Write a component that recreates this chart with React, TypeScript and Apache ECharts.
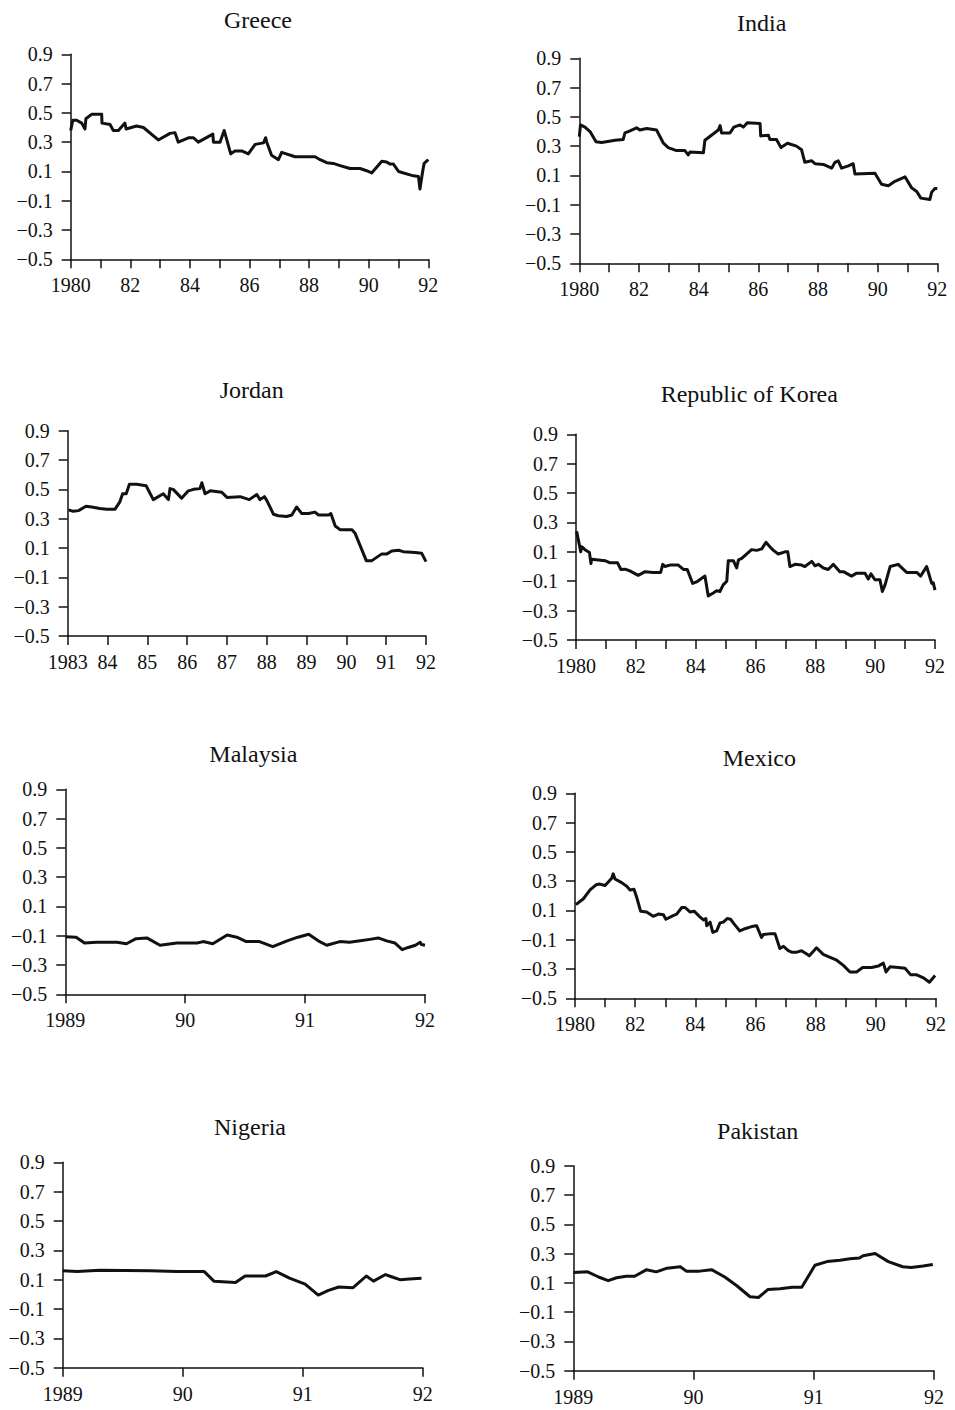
import React, { useEffect, useRef } from "react";
import * as echarts from "echarts";

// ---- Data: [year, value] pairs ----
const greece: number[][] = [
  [1980.0, 0.38], [1980.07, 0.45], [1980.2, 0.45], [1980.37, 0.43], [1980.48, 0.39], [1980.51, 0.46],
  [1980.7, 0.49], [1981.04, 0.49], [1981.05, 0.43], [1981.32, 0.42], [1981.43, 0.38], [1981.6, 0.38],
  [1981.82, 0.43], [1981.86, 0.39], [1982.21, 0.41], [1982.44, 0.4], [1982.94, 0.315], [1983.33, 0.36],
  [1983.5, 0.365], [1983.61, 0.3], [1983.95, 0.33], [1984.12, 0.33], [1984.28, 0.3], [1984.77, 0.355],
  [1984.79, 0.3], [1985.01, 0.3], [1985.15, 0.38], [1985.37, 0.22], [1985.51, 0.24], [1985.74, 0.24],
  [1985.96, 0.22], [1986.19, 0.285], [1986.47, 0.295], [1986.54, 0.33], [1986.58, 0.3], [1986.74, 0.21],
  [1986.97, 0.18], [1987.08, 0.23], [1987.53, 0.2], [1988.2, 0.2], [1988.37, 0.18], [1988.59, 0.16],
  [1988.81, 0.155], [1989.04, 0.14], [1989.37, 0.12], [1989.71, 0.12], [1989.93, 0.105], [1990.1, 0.09],
  [1990.44, 0.17], [1990.6, 0.165], [1990.72, 0.15], [1990.83, 0.15], [1991.0, 0.1], [1991.5, 0.07],
  [1991.67, 0.065], [1991.72, -0.02], [1991.81, 0.1], [1991.86, 0.155], [1992.0, 0.18],
];

const india: number[][] = [
  [1980.0, 0.365], [1980.04, 0.445], [1980.19, 0.43], [1980.36, 0.4], [1980.56, 0.33], [1980.75, 0.325],
  [1981.2, 0.34], [1981.47, 0.345], [1981.53, 0.39], [1981.7, 0.405], [1981.92, 0.425], [1982.03, 0.41],
  [1982.26, 0.42], [1982.59, 0.41], [1982.82, 0.32], [1982.98, 0.29], [1983.26, 0.27], [1983.54, 0.27],
  [1983.65, 0.24], [1983.71, 0.26], [1984.16, 0.255], [1984.21, 0.34], [1984.66, 0.41], [1984.72, 0.44],
  [1984.77, 0.39], [1985.05, 0.39], [1985.18, 0.43], [1985.39, 0.445], [1985.5, 0.43], [1985.63, 0.46],
  [1986.06, 0.455], [1986.08, 0.37], [1986.34, 0.375], [1986.39, 0.345], [1986.61, 0.345], [1986.76, 0.29],
  [1986.98, 0.32], [1987.28, 0.3], [1987.45, 0.275], [1987.56, 0.19], [1987.79, 0.2], [1987.9, 0.18],
  [1988.18, 0.175], [1988.46, 0.15], [1988.57, 0.19], [1988.68, 0.2], [1988.79, 0.15], [1989.02, 0.165],
  [1989.18, 0.18], [1989.24, 0.11], [1989.91, 0.115], [1990.13, 0.04], [1990.36, 0.03], [1990.58, 0.06],
  [1990.92, 0.09], [1991.14, 0.015], [1991.31, -0.01], [1991.45, -0.055], [1991.75, -0.065], [1991.81, -0.015],
  [1991.92, 0.01], [1992.0, 0.01],
];

const jordan: number[][] = [
  [1983.02, 0.36], [1983.14, 0.35], [1983.27, 0.355], [1983.46, 0.385], [1983.6, 0.38], [1983.81, 0.37],
  [1983.98, 0.365], [1984.19, 0.365], [1984.31, 0.415], [1984.38, 0.47], [1984.47, 0.47], [1984.55, 0.535],
  [1984.73, 0.535], [1984.97, 0.525], [1985.15, 0.43], [1985.4, 0.47], [1985.53, 0.43], [1985.57, 0.505],
  [1985.65, 0.5], [1985.86, 0.44], [1986.03, 0.49], [1986.16, 0.5], [1986.32, 0.505], [1986.37, 0.545],
  [1986.45, 0.47], [1986.58, 0.49], [1986.87, 0.48], [1987.0, 0.445], [1987.33, 0.45], [1987.56, 0.43],
  [1987.75, 0.465], [1987.83, 0.43], [1987.94, 0.45], [1988.0, 0.425], [1988.17, 0.33], [1988.29, 0.32],
  [1988.5, 0.315], [1988.63, 0.325], [1988.75, 0.38], [1988.88, 0.335], [1989.05, 0.335], [1989.21, 0.345],
  [1989.3, 0.325], [1989.55, 0.325], [1989.61, 0.335], [1989.72, 0.25], [1989.84, 0.225], [1990.14, 0.225],
  [1990.22, 0.2], [1990.5, 0.014], [1990.64, 0.014], [1990.89, 0.06], [1991.02, 0.06], [1991.14, 0.08],
  [1991.31, 0.085], [1991.43, 0.075], [1991.73, 0.07], [1991.89, 0.065], [1992.0, 0.007],
];

const korea: number[][] = [
  [1980.02, 0.24], [1980.08, 0.18], [1980.16, 0.1], [1980.19, 0.135], [1980.3, 0.115], [1980.45, 0.095],
  [1980.5, 0.02], [1980.52, 0.05], [1980.75, 0.045], [1980.97, 0.04], [1981.14, 0.025], [1981.39, 0.025],
  [1981.5, -0.02], [1981.64, -0.018], [1981.8, -0.03], [1982.08, -0.06], [1982.31, -0.035], [1982.58, -0.04],
  [1982.83, -0.04], [1982.9, 0.015], [1982.97, 0.0], [1983.14, 0.01], [1983.42, 0.01], [1983.59, -0.02],
  [1983.72, -0.02], [1983.9, -0.115], [1984.03, -0.105], [1984.31, -0.065], [1984.42, -0.2], [1984.59, -0.18],
  [1984.7, -0.165], [1984.81, -0.17], [1984.92, -0.125], [1985.04, -0.1], [1985.09, 0.04], [1985.26, 0.04],
  [1985.37, -0.01], [1985.43, 0.045], [1985.54, 0.055], [1985.7, 0.085], [1985.87, 0.115], [1986.04, 0.11],
  [1986.21, 0.12], [1986.35, 0.165], [1986.48, 0.135], [1986.6, 0.11], [1986.76, 0.085], [1986.99, 0.1],
  [1987.08, 0.1], [1987.15, 0.0], [1987.32, 0.015], [1987.54, 0.01], [1987.65, 0.0], [1987.88, 0.035],
  [1987.99, 0.005], [1988.1, 0.015], [1988.27, -0.01], [1988.43, -0.02], [1988.6, 0.015], [1988.82, -0.035],
  [1988.94, -0.035], [1989.21, -0.065], [1989.38, -0.045], [1989.66, -0.045], [1989.77, -0.085], [1989.86, -0.05],
  [1989.99, -0.09], [1990.16, -0.09], [1990.24, -0.17], [1990.33, -0.125], [1990.5, 0.0], [1990.77, 0.015],
  [1991.05, -0.04], [1991.39, -0.04], [1991.52, -0.065], [1991.72, 0.0], [1991.89, -0.115], [1991.94, -0.11],
  [1992.0, -0.16],
];

const malaysia: number[][] = [
  [1989.0, -0.107], [1989.09, -0.11], [1989.16, -0.15], [1989.26, -0.145], [1989.43, -0.145], [1989.51, -0.155],
  [1989.59, -0.12], [1989.68, -0.115], [1989.79, -0.165], [1989.93, -0.15], [1990.1, -0.15], [1990.15, -0.14],
  [1990.23, -0.155], [1990.35, -0.095], [1990.43, -0.11], [1990.51, -0.14], [1990.62, -0.14], [1990.73, -0.175],
  [1990.85, -0.135], [1990.94, -0.11], [1991.03, -0.09], [1991.11, -0.135], [1991.18, -0.165], [1991.29, -0.14],
  [1991.37, -0.145], [1991.46, -0.135], [1991.54, -0.125], [1991.61, -0.115], [1991.68, -0.135], [1991.75, -0.15],
  [1991.81, -0.195], [1991.86, -0.18], [1991.92, -0.165], [1991.96, -0.145], [1991.97, -0.16], [1992.0, -0.165],
];

const mexico: number[][] = [
  [1980.03, 0.14], [1980.28, 0.18], [1980.5, 0.24], [1980.7, 0.275], [1980.83, 0.28], [1981.0, 0.27],
  [1981.22, 0.32], [1981.27, 0.35], [1981.33, 0.315], [1981.55, 0.29], [1981.72, 0.265], [1981.83, 0.24],
  [1981.96, 0.245], [1982.05, 0.19], [1982.18, 0.095], [1982.38, 0.09], [1982.6, 0.06], [1982.77, 0.075],
  [1982.94, 0.07], [1983.02, 0.04], [1983.21, 0.06], [1983.38, 0.075], [1983.55, 0.12], [1983.66, 0.12],
  [1983.82, 0.09], [1983.96, 0.095], [1984.13, 0.06], [1984.27, 0.035], [1984.35, 0.045], [1984.38, -0.005],
  [1984.49, 0.02], [1984.58, -0.05], [1984.71, -0.04], [1984.82, 0.015], [1984.93, 0.02], [1985.06, 0.045],
  [1985.17, 0.04], [1985.32, 0.0], [1985.48, -0.04], [1985.65, -0.025], [1985.87, -0.01], [1986.04, -0.005],
  [1986.2, -0.085], [1986.26, -0.065], [1986.46, -0.06], [1986.65, -0.06], [1986.81, -0.16], [1986.93, -0.145],
  [1987.09, -0.175], [1987.2, -0.185], [1987.37, -0.185], [1987.53, -0.175], [1987.65, -0.19], [1987.79, -0.21],
  [1988.03, -0.155], [1988.25, -0.2], [1988.48, -0.22], [1988.7, -0.24], [1988.92, -0.275], [1989.14, -0.32],
  [1989.36, -0.32], [1989.56, -0.29], [1989.86, -0.29], [1990.08, -0.28], [1990.25, -0.26], [1990.34, -0.32],
  [1990.47, -0.285], [1990.75, -0.29], [1990.97, -0.295], [1991.16, -0.34], [1991.36, -0.34], [1991.58, -0.36],
  [1991.78, -0.39], [1991.97, -0.345],
];

const nigeria: number[][] = [
  [1989.0, 0.16], [1989.12, 0.155], [1989.31, 0.165], [1989.73, 0.16], [1989.95, 0.155], [1990.18, 0.155],
  [1990.26, 0.09], [1990.44, 0.08], [1990.52, 0.125], [1990.69, 0.125], [1990.78, 0.155], [1990.89, 0.11],
  [1991.02, 0.07], [1991.13, -0.005], [1991.21, 0.025], [1991.3, 0.05], [1991.42, 0.045], [1991.53, 0.125],
  [1991.59, 0.09], [1991.69, 0.135], [1991.74, 0.12], [1991.81, 0.1], [1991.89, 0.105], [1991.99, 0.11],
];

const pakistan: number[][] = [
  [1989.0, 0.17], [1989.12, 0.175], [1989.21, 0.14], [1989.29, 0.115], [1989.36, 0.135], [1989.44, 0.145],
  [1989.51, 0.145], [1989.61, 0.19], [1989.69, 0.175], [1989.78, 0.2], [1989.89, 0.21], [1989.94, 0.18],
  [1990.05, 0.18], [1990.15, 0.19], [1990.26, 0.14], [1990.36, 0.08], [1990.47, 0.005], [1990.54, 0.0],
  [1990.62, 0.055], [1990.72, 0.06], [1990.82, 0.07], [1990.9, 0.07], [1991.01, 0.22], [1991.11, 0.245],
  [1991.22, 0.255], [1991.3, 0.265], [1991.38, 0.27], [1991.41, 0.285], [1991.51, 0.3], [1991.62, 0.245],
  [1991.74, 0.21], [1991.81, 0.205], [1991.91, 0.215], [1991.99, 0.225],
];

const countries = ["Greece", "India", "Jordan", "Republic of Korea", "Malaysia", "Mexico", "Nigeria", "Pakistan"];
const seriesData = [greece, india, jordan, korea, malaysia, mexico, nigeria, pakistan];
const xStart = [1980, 1980, 1983, 1980, 1989, 1980, 1989, 1989];
const xEnd = [1992, 1992, 1992, 1992, 1992, 1992, 1992, 1992];
const labelEveryOther = [true, true, false, true, false, true, false, false];
const yMin = -0.5;
const yMax = 0.9;
const yStep = 0.2;

// ---- Layout (page pixels) ----
const layout = [
  { left: 70.7, top: 54.3, width: 357.6, height: 205, tx: 258, ty: 20 },
  { left: 579.3, top: 58.3, width: 358, height: 205, tx: 761.7, ty: 23 },
  { left: 67.7, top: 430.7, width: 358.3, height: 205.3, tx: 251.7, ty: 390 },
  { left: 576, top: 434.3, width: 359, height: 205.7, tx: 749.3, ty: 394 },
  { left: 65.3, top: 789.3, width: 359.7, height: 205, tx: 253.3, ty: 754.3 },
  { left: 575, top: 793.3, width: 361, height: 205, tx: 759.3, ty: 758.3 },
  { left: 62.7, top: 1162.3, width: 360, height: 205.4, tx: 250, ty: 1127.3 },
  { left: 573.3, top: 1165.7, width: 360.7, height: 205, tx: 757.7, ty: 1130.7 },
];

const FONT = "'Liberation Serif', 'Times New Roman', serif";
const INK = "#111";

export default function App() {
  const ref = useRef<HTMLDivElement>(null);
  useEffect(() => {
    if (!ref.current) return;
    const chart = echarts.init(ref.current, undefined, { renderer: "svg" });
    const grids: any[] = [];
    const xAxes: any[] = [];
    const yAxes: any[] = [];
    const series: any[] = [];
    const graphics: any[] = [];
    countries.forEach((name, i) => {
      const L = layout[i];
      const start = xStart[i];
      const every = labelEveryOther[i];
      grids.push({ left: L.left, top: L.top, width: L.width, height: L.height, containLabel: false });
      xAxes.push({
        type: "value",
        gridIndex: i,
        min: start,
        max: xEnd[i],
        interval: 1,
        axisLine: { show: true, onZero: false, lineStyle: { color: INK, width: 1.5 } },
        axisTick: { show: true, inside: false, length: 9, lineStyle: { color: INK, width: 1.5 } },
        splitLine: { show: false },
        axisLabel: {
          show: true,
          margin: 16,
          color: INK,
          fontFamily: FONT,
          fontSize: 20,
          showMinLabel: true,
          showMaxLabel: true,
          hideOverlap: false,
          formatter: (v: number) => {
            const yr = Math.round(v);
            if (yr === start) return String(yr);
            if (every && (yr - start) % 2 !== 0) return "";
            return String(yr % 100).padStart(2, "0");
          },
        },
      });
      yAxes.push({
        type: "value",
        gridIndex: i,
        min: yMin,
        max: yMax,
        interval: yStep,
        axisLine: { show: true, onZero: false, lineStyle: { color: INK, width: 1.5 } },
        axisTick: { show: true, inside: false, length: 9, lineStyle: { color: INK, width: 1.5 } },
        splitLine: { show: false },
        axisLabel: {
          show: true,
          margin: 18,
          color: INK,
          fontFamily: FONT,
          fontSize: 20,
          showMinLabel: true,
          showMaxLabel: true,
          formatter: (v: number) => {
            const s = (Math.round(v * 10) / 10).toFixed(1);
            return s.replace("-", "\u2212");
          },
        },
      });
      series.push({
        type: "line",
        name,
        xAxisIndex: i,
        yAxisIndex: i,
        data: seriesData[i],
        symbol: "none",
        showSymbol: false,
        lineStyle: { color: INK, width: 3, join: "round" },
        clip: false,
      });
      graphics.push({
        type: "text",
        x: L.tx,
        y: L.ty,
        style: {
          text: name,
          align: "center",
          verticalAlign: "middle",
          fill: INK,
          fontFamily: FONT,
          fontSize: 24,
        },
      });
    });
    chart.setOption({
      animation: false,
      backgroundColor: "#fff",
      grid: grids,
      xAxis: xAxes,
      yAxis: yAxes,
      series,
      graphic: graphics,
    });
    return () => chart.dispose();
  }, []);
  return (
    <div
      ref={ref}
      style={{ position: "absolute", left: 0, top: 0, width: 955, height: 1410, background: "#fff" }}
    />
  );
}
